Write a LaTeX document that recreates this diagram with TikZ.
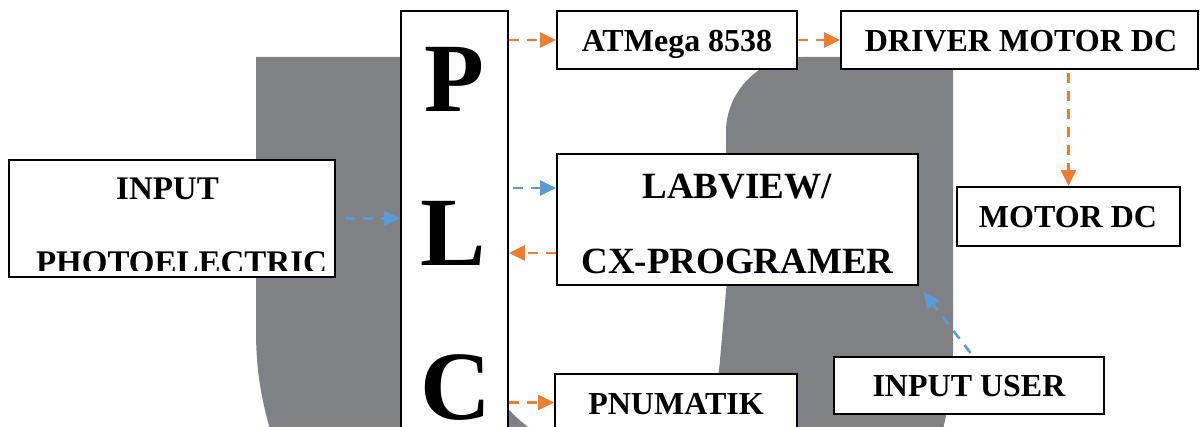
\documentclass[tikz,border=0pt]{standalone}
\usepackage{fontspec}
\setmainfont{Liberation Serif}
\usetikzlibrary{arrows.meta}
\definecolor{bggray}{RGB}{128,129,133}
\definecolor{arrorange}{RGB}{237,125,49}
\definecolor{arrblue}{RGB}{91,155,213}
\begin{document}
\begin{tikzpicture}[x=1pt,y=-1pt,
  box/.style={draw=black, line width=1.7pt, fill=white, inner sep=0pt},
  txt/.style={font=\bfseries\fontsize{32}{32}\selectfont, anchor=base, inner sep=0pt},
  txtmid/.style={font=\bfseries\fontsize{37}{37}\selectfont, anchor=base, inner sep=0pt},
  txtin/.style={font=\bfseries\fontsize{33}{33}\selectfont, anchor=base, inner sep=0pt},
  txtbig/.style={font=\bfseries\fontsize{98}{98}\selectfont, anchor=base, inner sep=0pt},
  link/.style={dash pattern=on 10pt off 8pt, line width=2.6pt, -{Triangle[length=16pt,width=15pt]}}]
\useasboundingbox (0,0) rectangle (1200,427);
% background watermark shape
\fill[bggray] (256,57) -- (470,57) -- (470,300)
  .. controls (470,370) and (500,410) .. (540,435) -- (700,435)
  .. controls (712,405) and (718,385) .. (720,360) -- (727,280) -- (726,132)
  .. controls (726,91) and (760,57) .. (801,57) -- (953,57) -- (953,350)
  .. controls (953,385) and (948,410) .. (938,450) -- (276,450)
  .. controls (264,410) and (256,380) .. (256,330) -- cycle;
% boxes
\node[box, minimum width=326pt, minimum height=117pt] (photo) at (172,218.5) {};
\node[box, minimum width=107pt, minimum height=429pt] (plc) at (454.5,225.5) {};
\node[box, minimum width=240pt, minimum height=58pt] (atmega) at (677,40) {};
\node[box, minimum width=357pt, minimum height=58pt] (driver) at (1019.5,40) {};
\node[box, minimum width=361pt, minimum height=131pt] (labview) at (737.5,219.5) {};
\node[box, minimum width=223pt, minimum height=59pt] (motor) at (1068.5,216.5) {};
\node[box, minimum width=270pt, minimum height=57pt] (iuser) at (969,385.5) {};
\node[box, minimum width=242pt, minimum height=57pt] (pnum) at (676,402.5) {};
% texts
\node[txtbig] (tP) at (454,112) {P};
\node[txtbig] (tL) at (453,266) {L};
\node[txtbig] (tC) at (456,420) {C};
\node[txt] (tat) at (677,52) {ATMega 8538};
\node[txt] (tdr) at (1021,52) {DRIVER MOTOR DC};
\node[txtmid] (tlab1) at (737,199) {LABVIEW/};
\node[txtmid] (tlab2) at (737.5,274) {CX-PROGRAMER};
\node[txt] (tmot) at (1068,228) {MOTOR DC};
\node[txt] (tiu) at (969,397) {INPUT USER};
\node[txt] (tpn) at (676,415) {PNUMATIK};
\node[txtin] (tin1) at (167.5,200) {INPUT};
\begin{scope}
  \clip (10,150) rectangle (334,271);
  \node[txtin] (tph) at (181.5,274) {PHOTOELECTRIC};
\end{scope}
% connectors
\coordinate (lvin) at ([yshift=31.5pt]labview.west);
\coordinate (lvout) at ([yshift=-33.5pt]labview.west);
\draw[link, arrblue, shorten <=9pt] (photo.east) -- (photo.east -| plc.west);
\draw[link, arrorange] (atmega.west -| plc.east) -- (atmega.west);
\draw[link, arrorange] (atmega.east) -- (driver.west);
\draw[link, arrorange, shorten <=3pt] (motor.north |- driver.south) -- (motor.north);
\draw[link, arrblue, shorten <=4pt] (lvin -| plc.east) -- (lvin);
\draw[link, arrorange] (lvout) -- (lvout -| plc.east);
\draw[link, arrorange] (pnum.west -| plc.east) -- (pnum.west);
\draw[link, arrblue, shorten <=4pt, shorten >=8pt] ([xshift=4pt]iuser.north) -- (labview.south east);
\end{tikzpicture}
\end{document}
